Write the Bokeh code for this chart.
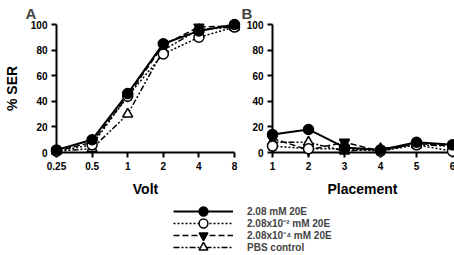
import numpy as np
from bokeh.plotting import figure
from bokeh.layouts import column, row
from bokeh.models import FixedTicker, Legend, LegendItem, Range1d
from bokeh.embed import file_html
from bokeh.resources import INLINE

# ---- data ----
volts = [0.25, 0.5, 1, 2, 4, 8]
volt_labels = ["0.25", "0.5", "1", "2", "4", "8"]
placements = [1, 2, 3, 4, 5, 6]
y_ticks = [0, 20, 40, 60, 80, 100]
names = ["2.08 mM 20E", "2.08x10\u207b\u00b2 mM 20E", "2.08x10\u207b\u2074 mM 20E", "PBS control"]

volt_ser_high = [2, 10, 46, 85, 95, 100]
volt_ser_mid = [1, 6, 44, 77, 90, 98]
volt_ser_low = [1, 8, 44, 84, 98, 99]
volt_ser_pbs = [1, 3, 30, 80, 96, 98]

place_ser_high = [14, 18, 4, 2, 8, 6]
place_ser_mid = [5, 3, 3, 1, 6, 1]
place_ser_low = [11, 2, 8, 1, 7, 5]
place_ser_pbs = [8, 8, 1, 3, 6, 5]

FONT = "Liberation Sans"
styles = [
    dict(line_dash="solid", line_width=2, marker="circle", fill_color="black"),
    dict(line_dash="2 2", line_width=1.5, marker="circle", fill_color="white"),
    dict(line_dash="6 3", line_width=1.5, marker="inverted_triangle", fill_color="black"),
    dict(line_dash="6 2 2 2 2 2", line_width=1.5, marker="triangle", fill_color="white"),
]


def style_axis(ax):
    ax.axis_line_width = 2
    ax.axis_line_color = "black"
    ax.major_tick_line_width = 2
    ax.major_tick_line_color = "black"
    ax.major_tick_in = 0
    ax.major_tick_out = 5
    ax.minor_tick_line_color = None
    ax.major_label_text_font = FONT
    ax.major_label_text_font_style = "bold"
    ax.major_label_text_font_size = "10px"
    ax.major_label_text_color = "black"
    ax.major_label_standoff = 4
    ax.axis_label_text_font = FONT
    ax.axis_label_text_font_style = "bold"
    ax.axis_label_text_font_size = "14px"
    ax.axis_label_text_color = "black"


def panel(xs, series, x_range, xbounds, ticks, overrides, xlabel, ylabel, title, left, fw, right):
    p = figure(frame_width=fw, frame_height=128, min_border_left=left, min_border_right=right,
               min_border_top=23, min_border_bottom=47, x_range=x_range, y_range=Range1d(0, 100),
               output_backend="svg", toolbar_location=None)
    p.grid.visible = False
    p.outline_line_color = None
    p.title.text = title
    p.title.text_font = FONT
    p.title.text_font_style = "bold"
    p.title.text_font_size = "15px"
    p.title.align = "left"
    p.title.offset = -31
    p.title.standoff = 5
    xa = p.xaxis[0]
    ya = p.yaxis[0]
    style_axis(xa)
    style_axis(ya)
    xa.ticker = FixedTicker(ticks=ticks)
    xa.bounds = xbounds
    if overrides:
        xa.major_label_overrides = overrides
    xa.axis_label = xlabel
    xa.axis_label_standoff = 8
    ya.ticker = FixedTicker(ticks=y_ticks)
    ya.bounds = (0, 100)
    if ylabel:
        ya.axis_label = ylabel
        ya.axis_label_standoff = 8
    order = [3, 2, 1, 0]
    for i in order:
        st = styles[i]
        p.line(xs, series[i], line_color="black", line_width=st["line_width"],
               line_dash=st["line_dash"], level="overlay")
    for i in order:
        st = styles[i]
        p.scatter(xs, series[i], marker=st["marker"], size=10, fill_color=st["fill_color"],
                  line_color="black", line_width=1.5, level="overlay")
    return p


log_volts = [float(v) for v in np.log2(volts)]
volt_series = [volt_ser_high, volt_ser_mid, volt_ser_low, volt_ser_pbs]
pa = panel(log_volts, volt_series,
           Range1d(log_volts[0], log_volts[-1]), (log_volts[0], log_volts[-1]), log_volts,
           {lv: lab for lv, lab in zip(log_volts, volt_labels)},
           "Volt", "% SER", "A", 52, 178, 8)
pb = panel(placements, [place_ser_high, place_ser_mid, place_ser_low, place_ser_pbs],
           Range1d(placements[0], placements[-1]), (placements[0], placements[-1]), placements,
           None, "Placement", None, "B", 30, 180, 6)

# legend strip: renderers of the same series, kept outside its (empty) view
leg = figure(width=454, height=57, x_range=Range1d(1000, 1001), y_range=Range1d(1000, 1001),
             x_axis_location=None, y_axis_location=None, min_border=0,
             output_backend="svg", toolbar_location=None)
leg.grid.visible = False
leg.outline_line_color = None
for k, (name, st, ys) in enumerate(zip(names, styles, volt_series)):
    lr = leg.line(log_volts, ys, line_color="black", line_width=st["line_width"], line_dash=st["line_dash"])
    sr = leg.scatter(log_volts, ys, marker=st["marker"], size=10, fill_color=st["fill_color"],
                     line_color="black", line_width=1.5)
    lg = Legend(items=[LegendItem(label=name, renderers=[lr, sr])], location=(173, 34 - 12 * k),
                glyph_width=60, glyph_height=22, label_height=12,
                label_standoff=14, spacing=0, padding=0, margin=0, border_line_color=None,
                background_fill_alpha=0, label_text_font=FONT, label_text_font_style="bold",
                label_text_font_size="10px")
    leg.add_layout(lg)

layout = column(row(pa, pb), leg)
open("out.html", "w").write(file_html(layout, INLINE))
